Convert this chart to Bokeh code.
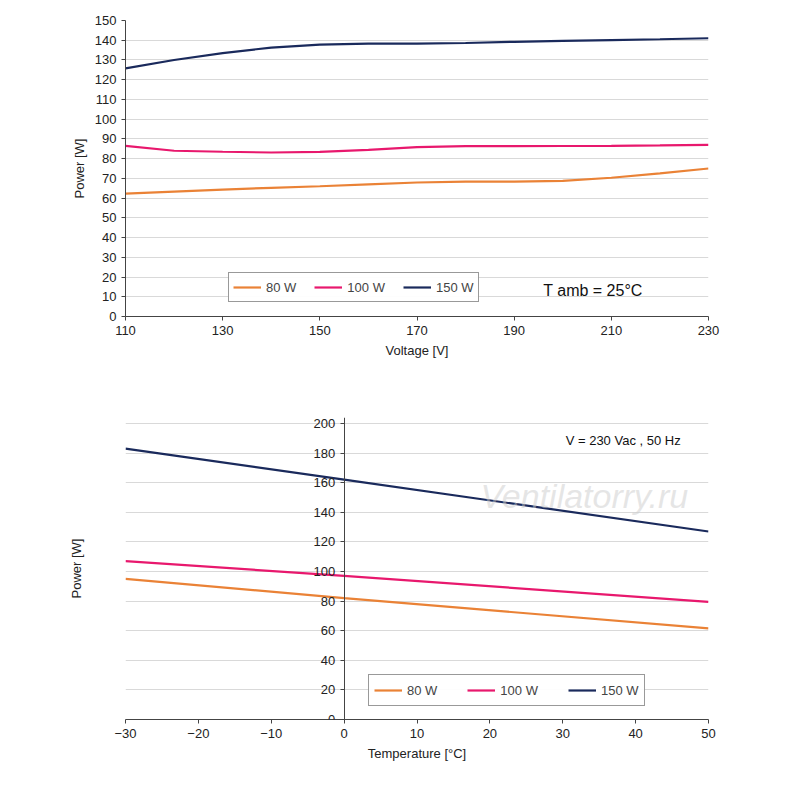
from bokeh.plotting import figure
from bokeh.models import Legend, LegendItem, Label, FixedTicker, Range1d, LinearAxis
from bokeh.layouts import column
from bokeh.embed import file_html
from bokeh.resources import INLINE

FONT = "Liberation Sans"
C80, C100, C150 = "#ea8236", "#e8186d", "#1a2a5c"

volt = [110, 120, 130, 140, 150, 160, 170, 180, 190, 200, 210, 220, 230]
v80 = [62.3, 63.3, 64.3, 65.2, 66.0, 67.0, 67.9, 68.3, 68.3, 68.7, 70.3, 72.5, 75.0]
v100 = [86.5, 84.0, 83.5, 83.1, 83.4, 84.4, 85.8, 86.3, 86.3, 86.4, 86.5, 86.7, 87.0]
v150 = [125.7, 130.0, 133.5, 136.3, 137.8, 138.3, 138.3, 138.6, 139.2, 139.7, 140.1, 140.5, 141.0]

temp = [-30, 0, 50]
t80 = [95.0, 82.0, 61.5]
t100 = [107.0, 97.0, 79.5]
t150 = [183.0, 162.0, 127.0]
temp_yticks = list(range(0, 201, 20))

def style(p):
    p.outline_line_color = None
    p.xgrid.grid_line_color = None
    p.ygrid.grid_line_color = "#d9d9d9"
    for ax in p.axis:
        ax.major_label_text_font = FONT
        ax.major_label_text_font_size = "13px"
        ax.major_label_text_color = "#222222"
        ax.axis_label_text_font = FONT
        ax.axis_label_text_font_size = "13px"
        ax.axis_label_text_font_style = "normal"
        ax.axis_label_text_color = "#222222"
        ax.axis_line_color = "#444444"
        ax.major_tick_line_color = "#444444"
        ax.minor_tick_line_color = None
        ax.major_tick_in = 0
        ax.major_tick_out = 4

p1 = figure(width=784, height=375, output_backend="svg", toolbar_location=None,
            x_range=Range1d(110, 230), y_range=Range1d(0, 150),
            min_border_left=125, min_border_right=76, min_border_top=20, min_border_bottom=59)
style(p1)
p1.xaxis.ticker = FixedTicker(ticks=list(range(110, 231, 20)))
p1.yaxis.ticker = FixedTicker(ticks=list(range(0, 151, 10)))
p1.xaxis.axis_label = "Voltage [V]"
p1.yaxis.axis_label = "Power [W]"
r1 = p1.line(volt, v80, color=C80, line_width=2.2)
r2 = p1.line(volt, v100, color=C100, line_width=2.2)
r3 = p1.line(volt, v150, color=C150, line_width=2.2)
lg1 = Legend(items=[LegendItem(label="80 W", renderers=[r1]), LegendItem(label="100 W", renderers=[r2]),
                    LegendItem(label="150 W", renderers=[r3])],
             orientation="horizontal", location=(103, 14), label_text_font=FONT,
             label_text_font_size="13px", border_line_color="#333333", spacing=18, padding=4,
             glyph_width=28, margin=0)
p1.add_layout(lg1, "center")
p1.add_layout(Label(x=196, y=13, text="T amb = 25°C", text_font=FONT, text_font_size="16px",
                    text_color="#111111", text_baseline="middle"))

p2 = figure(width=784, height=398, output_backend="svg", toolbar_location=None,
            x_range=Range1d(-30, 50), y_range=Range1d(0, 204),
            min_border_left=125, min_border_right=76, min_border_top=42, min_border_bottom=54)
style(p2)
p2.xaxis.ticker = FixedTicker(ticks=list(range(-30, 51, 10)))
p2.yaxis.ticker = FixedTicker(ticks=temp_yticks)
p2.yaxis.fixed_location = 0
p2.xaxis.axis_label = "Temperature [°C]"
side = LinearAxis(ticker=FixedTicker(ticks=[]), axis_line_color=None, major_tick_line_color=None,
                  minor_tick_line_color=None, major_label_text_alpha=0, axis_label="Power [W]",
                  axis_label_text_font=FONT, axis_label_text_font_size="13px",
                  axis_label_text_font_style="normal", axis_label_text_color="#222222",
                  axis_label_standoff=42)
p2.add_layout(side, "left")
q1 = p2.line(temp, t80, color=C80, line_width=2.2)
q2 = p2.line(temp, t100, color=C100, line_width=2.2)
q3 = p2.line(temp, t150, color=C150, line_width=2.2)
lg2 = Legend(items=[LegendItem(label="80 W", renderers=[q1]), LegendItem(label="100 W", renderers=[q2]),
                    LegendItem(label="150 W", renderers=[q3])],
             orientation="horizontal", location=(243, 13), label_text_font=FONT,
             label_text_font_size="13px", border_line_color="#333333", spacing=30, padding=5,
             glyph_width=28, margin=0)
p2.add_layout(lg2, "center")
p2.add_layout(Label(x=30.4, y=188.5, text="V = 230 Vac , 50 Hz", text_font=FONT,
                    text_font_size="13px", text_color="#111111", text_baseline="middle"))
p2.add_layout(Label(x=18.7, y=151, text="Ventilatorry.ru", text_font=FONT, text_font_size="34px",
                    text_font_style="italic", text_color="#cccccc", text_alpha=0.5,
                    text_baseline="middle"))

lay = column(p1, p2, spacing=0)
open("out.html", "w").write(file_html(lay, INLINE))
